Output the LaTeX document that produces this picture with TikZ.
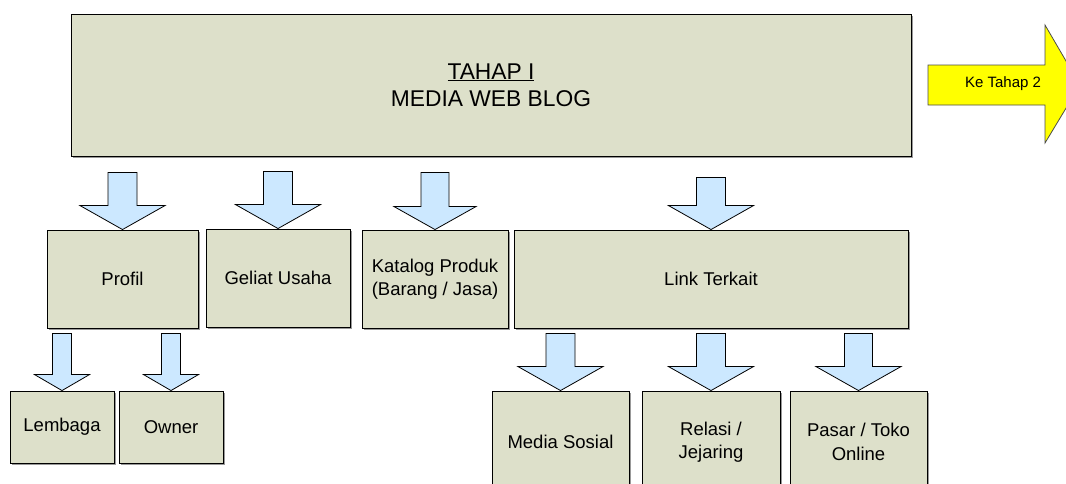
\documentclass[tikz,border=0pt]{standalone}
\usepackage{fontspec}
\setmainfont{Liberation Sans}
\usetikzlibrary{calc,shadows}
\definecolor{boxfill}{HTML}{DDE0CA}
\definecolor{arrowfill}{HTML}{CCE8FF}
\definecolor{nextfill}{HTML}{FFFF00}

% block arrow pointing down onto the top of node #1
% #2 total length, #3 half shaft width, #4 half head width, #5 head length
\newcommand{\downblock}[5]{%
  \draw[blockarrow] ($(#1.north)+(-#3,-#2)$) -- ($(#1.north)+(#3,-#2)$)
    -- ($(#1.north)+(#3,-#5)$) -- ($(#1.north)+(#4,-#5)$) -- (#1.north)
    -- ($(#1.north)+(-#4,-#5)$) -- ($(#1.north)+(-#3,-#5)$) -- cycle;}

\begin{document}
\begin{tikzpicture}[x=1pt,y=-1pt,
  box/.style={draw=black, line width=0.9pt, fill=boxfill, rectangle, inner sep=0pt,
    align=center, font=\fontsize{18.5}{23.5}\selectfont,
    general shadow={fill=black!40, shadow xshift=1.5pt, shadow yshift=-1.5pt}},
  blockarrow/.style={draw=black, line width=0.8pt, fill=arrowfill, line join=miter},
  nextarrow/.style={draw=black!70, line width=0.8pt, fill=nextfill, line join=miter}]
\useasboundingbox (0,0) rectangle (1066,483);
\clip (0,0) rectangle (1066,483);

% main stage
\node[box, minimum width=840, minimum height=142, font=\fontsize{22.8}{27}\selectfont]
  (tahap) at (491,85) {\underline{TAHAP I}\\MEDIA WEB BLOG};

% first level
\node[box, minimum width=151, minimum height=98] (profil) at (122.5,279) {Profil};
\node[box, minimum width=144, minimum height=98] (geliat) at (278,278) {Geliat Usaha};
\node[box, minimum width=146, minimum height=98] (katalog) at (435,279) {Katalog Produk\\(Barang / Jasa)};
\node[box, minimum width=394, minimum height=98] (link) at (711,279) {Link Terkait};

% second level
\node[box, minimum width=104, minimum height=72] (lembaga) at (62,427) {Lembaga};
\node[box, minimum width=104, minimum height=72] (owner) at (171,427) {Owner};
\node[box, minimum width=137, minimum height=102] (sosial) at (560.5,442) {Media Sosial};
\node[box, minimum width=138, minimum height=102] (relasi) at (711,442) {Relasi /\\Jejaring};
\node[box, minimum width=137, minimum height=102] (pasar) at (858.5,442) {Pasar / Toko\\Online};

% arrows from the main stage
\downblock{profil}{57}{14.5}{42.5}{24}
\downblock{geliat}{57}{14.5}{42.5}{24}
\downblock{katalog}{57}{14}{41}{23}
\downblock{link}{52}{14.5}{42.5}{24}

% arrows to the second level
\downblock{lembaga}{57}{9.5}{27.5}{16}
\downblock{owner}{57}{9.5}{27.5}{16}
\downblock{sosial}{57}{14.5}{42.5}{24}
\downblock{relasi}{57}{14.5}{42.5}{24}
\downblock{pasar}{57}{14}{42.5}{24}

% arrow to the next stage
\coordinate (nx) at (928,85);
\draw[nextarrow] ($(nx)+(0,-20)$) -- ($(nx)+(117,-20)$) -- ($(nx)+(117,-60)$)
  -- ($(nx)+(152,0)$) -- ($(nx)+(117,58)$) -- ($(nx)+(117,20)$) -- ($(nx)+(0,20)$) -- cycle;
\node[font=\fontsize{15}{17}\selectfont, inner sep=0pt] (ke) at (1003,84) {Ke Tahap 2};
\end{tikzpicture}
\end{document}
